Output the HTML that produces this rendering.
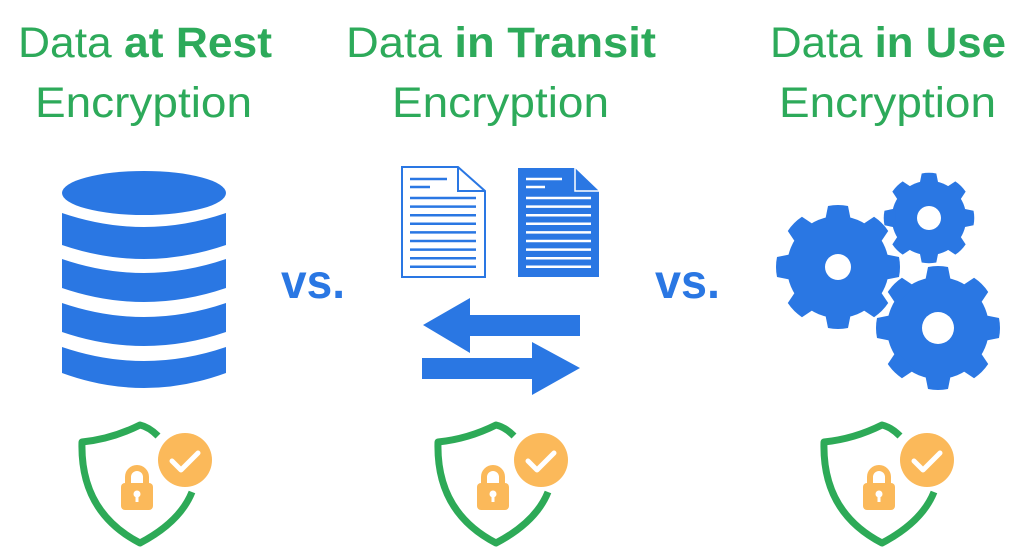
<!DOCTYPE html>
<html><head><meta charset="utf-8"><style>
html,body{margin:0;padding:0;background:#fff;width:1024px;height:556px;overflow:hidden}
svg{display:block}
</style></head><body>
<svg width="1024" height="556" viewBox="0 0 1024 556" xmlns="http://www.w3.org/2000/svg">
<defs>
<g id="gear8">
  <circle r="51" fill="#2a77e3"/>
  <path id="tooth" d="M-13,-46 L-10,-61 Q0,-63 10,-61 L13,-46 Z" fill="#2a77e3"/>
  <use href="#tooth" transform="rotate(45)"/>
  <use href="#tooth" transform="rotate(90)"/>
  <use href="#tooth" transform="rotate(135)"/>
  <use href="#tooth" transform="rotate(180)"/>
  <use href="#tooth" transform="rotate(225)"/>
  <use href="#tooth" transform="rotate(270)"/>
  <use href="#tooth" transform="rotate(315)"/>
</g>
<g id="shield">
  <path d="M158,436 Q149,427 140,425 Q112,439 82,442 Q80,512 140,543 Q180,522 192,492" fill="none" stroke="#2daa57" stroke-width="7" stroke-linecap="butt" stroke-linejoin="round"/>
  <circle cx="185" cy="460" r="27" fill="#fbb95a"/>
  <path d="M172,461 L181,470 L198,453" fill="none" stroke="#fff" stroke-width="5" stroke-linecap="round" stroke-linejoin="round"/>
  <path d="M128,485 V477 A9,9 0 0 1 146,477 V485" fill="none" stroke="#fbb95a" stroke-width="6"/>
  <rect x="121" y="483" width="32" height="27" rx="4" fill="#fbb95a"/>
  <circle cx="137" cy="494" r="3.5" fill="#fff"/>
  <rect x="135.5" y="494" width="3" height="8" fill="#fff"/>
</g>
</defs>

<g font-family="Liberation Sans, sans-serif" fill="#2daa5a" font-size="43">
  <text x="18" y="57" textLength="254" lengthAdjust="spacingAndGlyphs">Data <tspan font-weight="bold">at Rest</tspan></text>
  <text x="35" y="117" textLength="217" lengthAdjust="spacingAndGlyphs">Encryption</text>
  <text x="346" y="57" textLength="310" lengthAdjust="spacingAndGlyphs">Data <tspan font-weight="bold">in Transit</tspan></text>
  <text x="392" y="117" textLength="217" lengthAdjust="spacingAndGlyphs">Encryption</text>
  <text x="770" y="57" textLength="236" lengthAdjust="spacingAndGlyphs">Data <tspan font-weight="bold">in Use</tspan></text>
  <text x="779" y="117" textLength="217" lengthAdjust="spacingAndGlyphs">Encryption</text>
</g>
<g font-family="Liberation Sans, sans-serif" fill="#2a77e3" font-size="48" font-weight="bold">
  <text x="281" y="298" textLength="64" lengthAdjust="spacingAndGlyphs">vs.</text>
  <text x="655" y="298" textLength="65" lengthAdjust="spacingAndGlyphs">vs.</text>
</g>

<g fill="#2a77e3">
  <ellipse cx="144" cy="193" rx="82" ry="22"/>
  <path d="M62,213 Q144,241 226,213 L226,245 Q144,273 62,245 Z"/>
  <path d="M62,259 Q144,287 226,259 L226,288 Q144,316 62,288 Z"/>
  <path d="M62,303 Q144,331 226,303 L226,332 Q144,360 62,332 Z"/>
  <path d="M62,347 Q144,375 226,347 L226,373 Q144,403 62,373 Z"/>
</g>

<g>
  <path d="M402,167 H458 L485,191 V277 H402 Z" fill="#fff" stroke="#2a77e3" stroke-width="2"/>
  <path d="M458,167 V191 H485" fill="none" stroke="#2a77e3" stroke-width="2"/>
  <g stroke="#2a77e3" stroke-width="2.5">
    <line x1="410" y1="179" x2="447" y2="179"/>
    <line x1="410" y1="187" x2="430" y2="187"/>
    <line x1="410" y1="198" x2="476" y2="198"/>
    <line x1="410" y1="206.6" x2="476" y2="206.6"/>
    <line x1="410" y1="215.2" x2="476" y2="215.2"/>
    <line x1="410" y1="223.8" x2="476" y2="223.8"/>
    <line x1="410" y1="232.4" x2="476" y2="232.4"/>
    <line x1="410" y1="241" x2="476" y2="241"/>
    <line x1="410" y1="249.6" x2="476" y2="249.6"/>
    <line x1="410" y1="258.2" x2="476" y2="258.2"/>
    <line x1="410" y1="266.8" x2="476" y2="266.8"/>
  </g>
  <path d="M518,168 H575 L599,191 V277 H518 Z" fill="#2a77e3"/>
  <path d="M575,168 V191 H599" fill="none" stroke="#fff" stroke-width="1.5"/>
  <g stroke="#fff" stroke-width="2.5">
    <line x1="526" y1="179" x2="562" y2="179"/>
    <line x1="526" y1="187" x2="545" y2="187"/>
    <line x1="526" y1="198" x2="591" y2="198"/>
    <line x1="526" y1="206.6" x2="591" y2="206.6"/>
    <line x1="526" y1="215.2" x2="591" y2="215.2"/>
    <line x1="526" y1="223.8" x2="591" y2="223.8"/>
    <line x1="526" y1="232.4" x2="591" y2="232.4"/>
    <line x1="526" y1="241" x2="591" y2="241"/>
    <line x1="526" y1="249.6" x2="591" y2="249.6"/>
    <line x1="526" y1="258.2" x2="591" y2="258.2"/>
    <line x1="526" y1="266.8" x2="591" y2="266.8"/>
  </g>
</g>

<g fill="#2a77e3">
  <path d="M423,325 L470,298 L470,315 L580,315 L580,336 L470,336 L470,353 Z"/>
  <path d="M580,368 L532,342 L532,358 L422,358 L422,379 L532,379 L532,395 Z"/>
</g>

<use href="#gear8" transform="translate(838,267)"/>
<circle cx="838" cy="267" r="13" fill="#fff"/>
<use href="#gear8" transform="translate(929,218) scale(0.73)"/>
<circle cx="929" cy="218" r="12" fill="#fff"/>
<use href="#gear8" transform="translate(938,328)"/>
<circle cx="938" cy="328" r="16" fill="#fff"/>

<use href="#shield"/>
<use href="#shield" transform="translate(356,0)"/>
<use href="#shield" transform="translate(742,0)"/>
</svg>
</body></html>
